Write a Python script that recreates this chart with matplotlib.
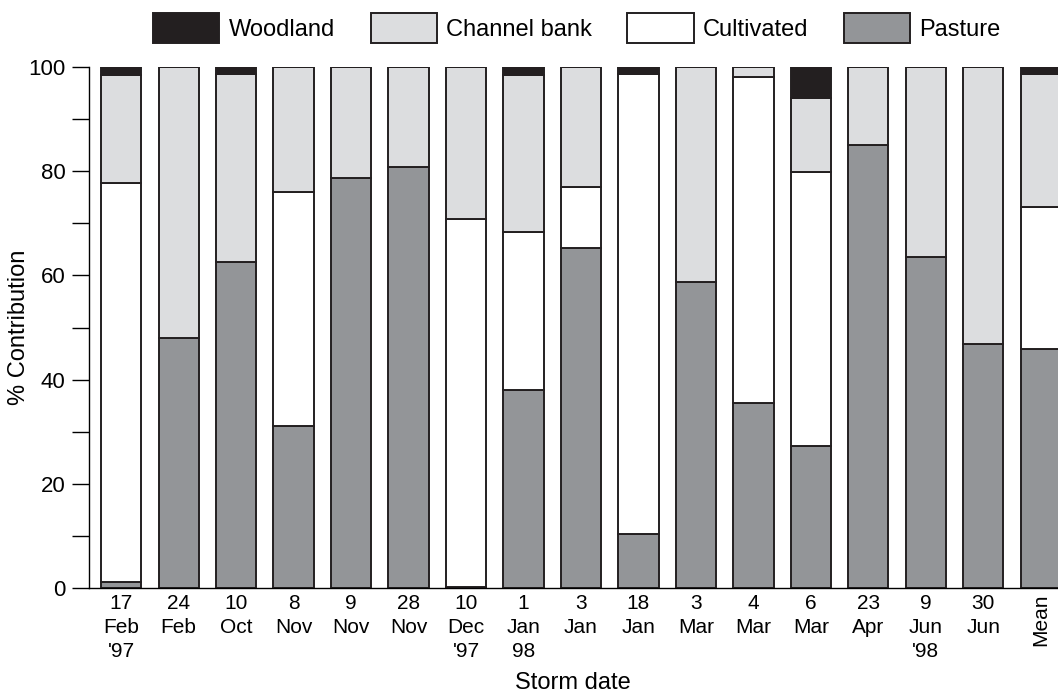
import matplotlib.pyplot as plt
from matplotlib.ticker import MultipleLocator
import numpy as np

plt.rcParams['font.family'] = ['Liberation Sans', 'DejaVu Sans']

# Storm dates (multi-line labels) and source contributions (%)
dates = ["17\nFeb\n'97", "24\nFeb", "10\nOct", "8\nNov", "9\nNov", "28\nNov",
         "10\nDec\n'97", "1\nJan\n98", "3\nJan", "18\nJan", "3\nMar", "4\nMar",
         "6\nMar", "23\nApr", "9\nJun\n'98", "30\nJun", "Mean"]
pasture = [1.2, 48.0, 62.6, 31.1, 78.7, 80.8, 0.2, 38.0, 65.3, 10.4, 58.7,
           35.5, 27.3, 85.0, 63.5, 46.8, 45.9]
cultivated = [76.5, 0.0, 0.0, 44.9, 0.0, 0.0, 70.6, 30.3, 11.7, 88.2, 0.0,
              62.6, 52.5, 0.0, 0.0, 0.0, 27.2]
channel = [20.8, 52.0, 36.0, 24.0, 21.3, 19.2, 29.2, 30.2, 23.0, 0.0, 41.3,
           1.9, 14.2, 15.0, 36.5, 53.2, 25.6]
woodland = [1.5, 0.0, 1.4, 0.0, 0.0, 0.0, 0.0, 1.5, 0.0, 1.4, 0.0,
            0.0, 6.0, 0.0, 0.0, 0.0, 1.3]

edge = '#231f20'
layers = [("Pasture", pasture, '#939598'),
          ("Cultivated", cultivated, 'white'),
          ("Channel bank", channel, '#dcdddf'),
          ("Woodland", woodland, edge)]

fig = plt.figure(figsize=(10.58, 6.95), dpi=100)
ax = fig.add_axes([89 / 1058, 1 - 588 / 695, 969 / 1058, 521 / 695])

x = np.arange(len(dates))
bottom = np.zeros(len(dates))
handles = {}
for name, vals, color in layers:
    vals = np.array(vals)
    bars = ax.bar(x, vals, width=0.7, bottom=bottom, color=color,
                  edgecolor=edge, linewidth=1.4)
    handles[name] = bars
    bottom += vals

ax.set_xlim(-0.56, 16.3)
ax.set_ylim(0, 100)
ax.yaxis.set_major_locator(MultipleLocator(20))
ax.yaxis.set_minor_locator(MultipleLocator(10))
ax.tick_params(axis='y', which='both', length=12, width=1, labelsize=16, pad=5)
ax.tick_params(axis='x', length=0, labelsize=15, pad=4)
ax.set_xticks(x)
ax.set_xticklabels(dates, linespacing=1.35)
ax.get_xticklabels()[-1].set_rotation(90)
for s in ['top', 'right']:
    ax.spines[s].set_visible(False)
ax.spines['left'].set_linewidth(1)
ax.spines['bottom'].set_linewidth(1)

ax.set_ylabel("% Contribution", fontsize=17)
ax.yaxis.set_label_coords((30 - 89) / 969, 0.5)
ax.set_xlabel("Storm date", fontsize=17, va='center')
ax.xaxis.set_label_coords((573 - 89) / 969, (588 - 683) / 521)

order = ["Woodland", "Channel bank", "Cultivated", "Pasture"]
fig.legend([handles[n] for n in order], order, loc='center',
           bbox_to_anchor=(577 / 1058, 1 - 28 / 695), ncol=4, frameon=False,
           fontsize=17, handlelength=2.8, handleheight=1.6,
           handletextpad=0.4, columnspacing=1.5)

fig.savefig("out.png", dpi=100)
